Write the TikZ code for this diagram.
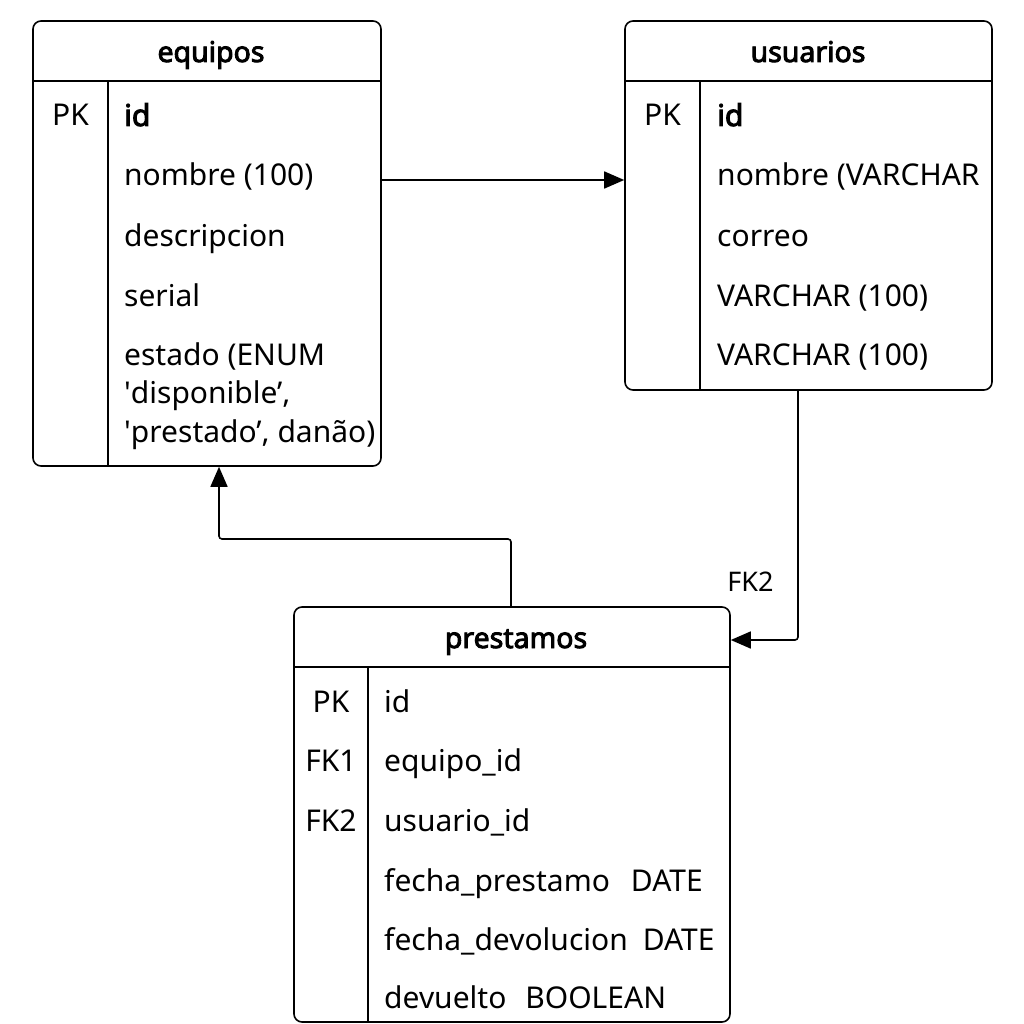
\documentclass[tikz,border=0pt]{standalone}
\usepackage{fontspec}
\setmainfont{Noto Sans}[AutoFakeBold=3.2]
\usetikzlibrary{arrows.meta}
\begin{document}
\begin{tikzpicture}[x=1pt,y=-1pt,
  tbl/.style={draw, line width=1.6pt, rounded corners=8pt, inner sep=0pt, fill=white},
  rule/.style={line width=1.6pt},
  txt/.style={anchor=base west, inner sep=0pt, font=\fontsize{30}{38.5}\selectfont},
  keyc/.style={anchor=base, inner sep=0pt, font=\fontsize{30}{36}\selectfont},
  hdr/.style={anchor=base, inner sep=0pt, font=\bfseries\fontsize{28.5}{34}\selectfont},
  arr/.style={line width=1.6pt, rounded corners=3pt, -{Triangle[length=20pt,width=17pt]}}]
\useasboundingbox[fill=white] (0,0) rectangle (1024,1024);

% equipos
\node[tbl, minimum width=348pt, minimum height=445pt] (eq) at (207,243.5) {};
\draw[rule] (eq.west |- 0,81) -- (eq.east |- 0,81);
\draw[rule] (108,81) -- (eq.south -| 108,0);
\node[hdr] (eqh) at (211,62) {equipos};
\node[keyc] (eqk) at (70.5,126) {PK};
\node[txt] (eq1) at (124,126) {\bfseries id};
\node[txt] (eq2) at (124,186) {nombre (100)};
\node[txt] (eq3) at (124,246) {descripcion};
\node[txt] (eq4) at (124,306) {serial};
\node[txt, anchor=north west, align=left, text depth=0pt] (eq5) at (124,342) {estado (ENUM\\ \textquotesingle disponible’,\\ \textquotesingle prestado’, danão)};

% usuarios
\node[tbl, minimum width=367pt, minimum height=369pt] (us) at (808.5,205.5) {};
\draw[rule] (us.west |- 0,81) -- (us.east |- 0,81);
\draw[rule] (700,81) -- (us.south -| 700,0);
\node[hdr] (ush) at (808,62) {usuarios};
\node[keyc] (usk) at (662.5,126) {PK};
\node[txt] (us1) at (717,126) {\bfseries id};
\node[txt] (us2) at (717,186) {nombre (VARCHAR};
\node[txt] (us3) at (717,246) {correo};
\node[txt] (us4) at (717,306) {VARCHAR (100)};
\node[txt] (us5) at (717,365) {VARCHAR (100)};

% prestamos
\node[tbl, minimum width=436pt, minimum height=415pt] (pr) at (512,814.5) {};
\draw[rule] (pr.west |- 0,667) -- (pr.east |- 0,667);
\draw[rule] (368,667) -- (pr.south -| 368,0);
\node[hdr] (prh) at (516,648) {prestamos};
\node[keyc] (prk1) at (331,712) {PK};
\node[keyc] (prk2) at (331,771) {FK1};
\node[keyc] (prk3) at (331,831) {FK2};
\node[txt] (pr1) at (384,712) {id};
\node[txt] (pr2) at (384,771) {equipo\_id};
\node[txt] (pr3) at (384,831) {usuario\_id};
\node[txt] (pr4) at (384,891) {fecha\_prestamo\hspace{21pt}DATE};
\node[txt] (pr5) at (384,950) {fecha\_devolucion\hspace{15pt}DATE};
\node[txt] (pr6) at (384,1008) {devuelto\hspace{19pt}BOOLEAN};

% connectors
\draw[arr] (eq.east |- 0,180) -- (us.west |- 0,180);
\draw[arr] (pr.north -| 511,0) |- (219,539) -- (eq.south -| 219,0);
\draw[arr] (us.south -| 798,0) |- (pr.east |- 0,640);
\node[anchor=base, inner sep=0pt, font=\fontsize{27}{30}\selectfont] (fk2) at (750.5,591) {FK2};
\end{tikzpicture}
\end{document}
